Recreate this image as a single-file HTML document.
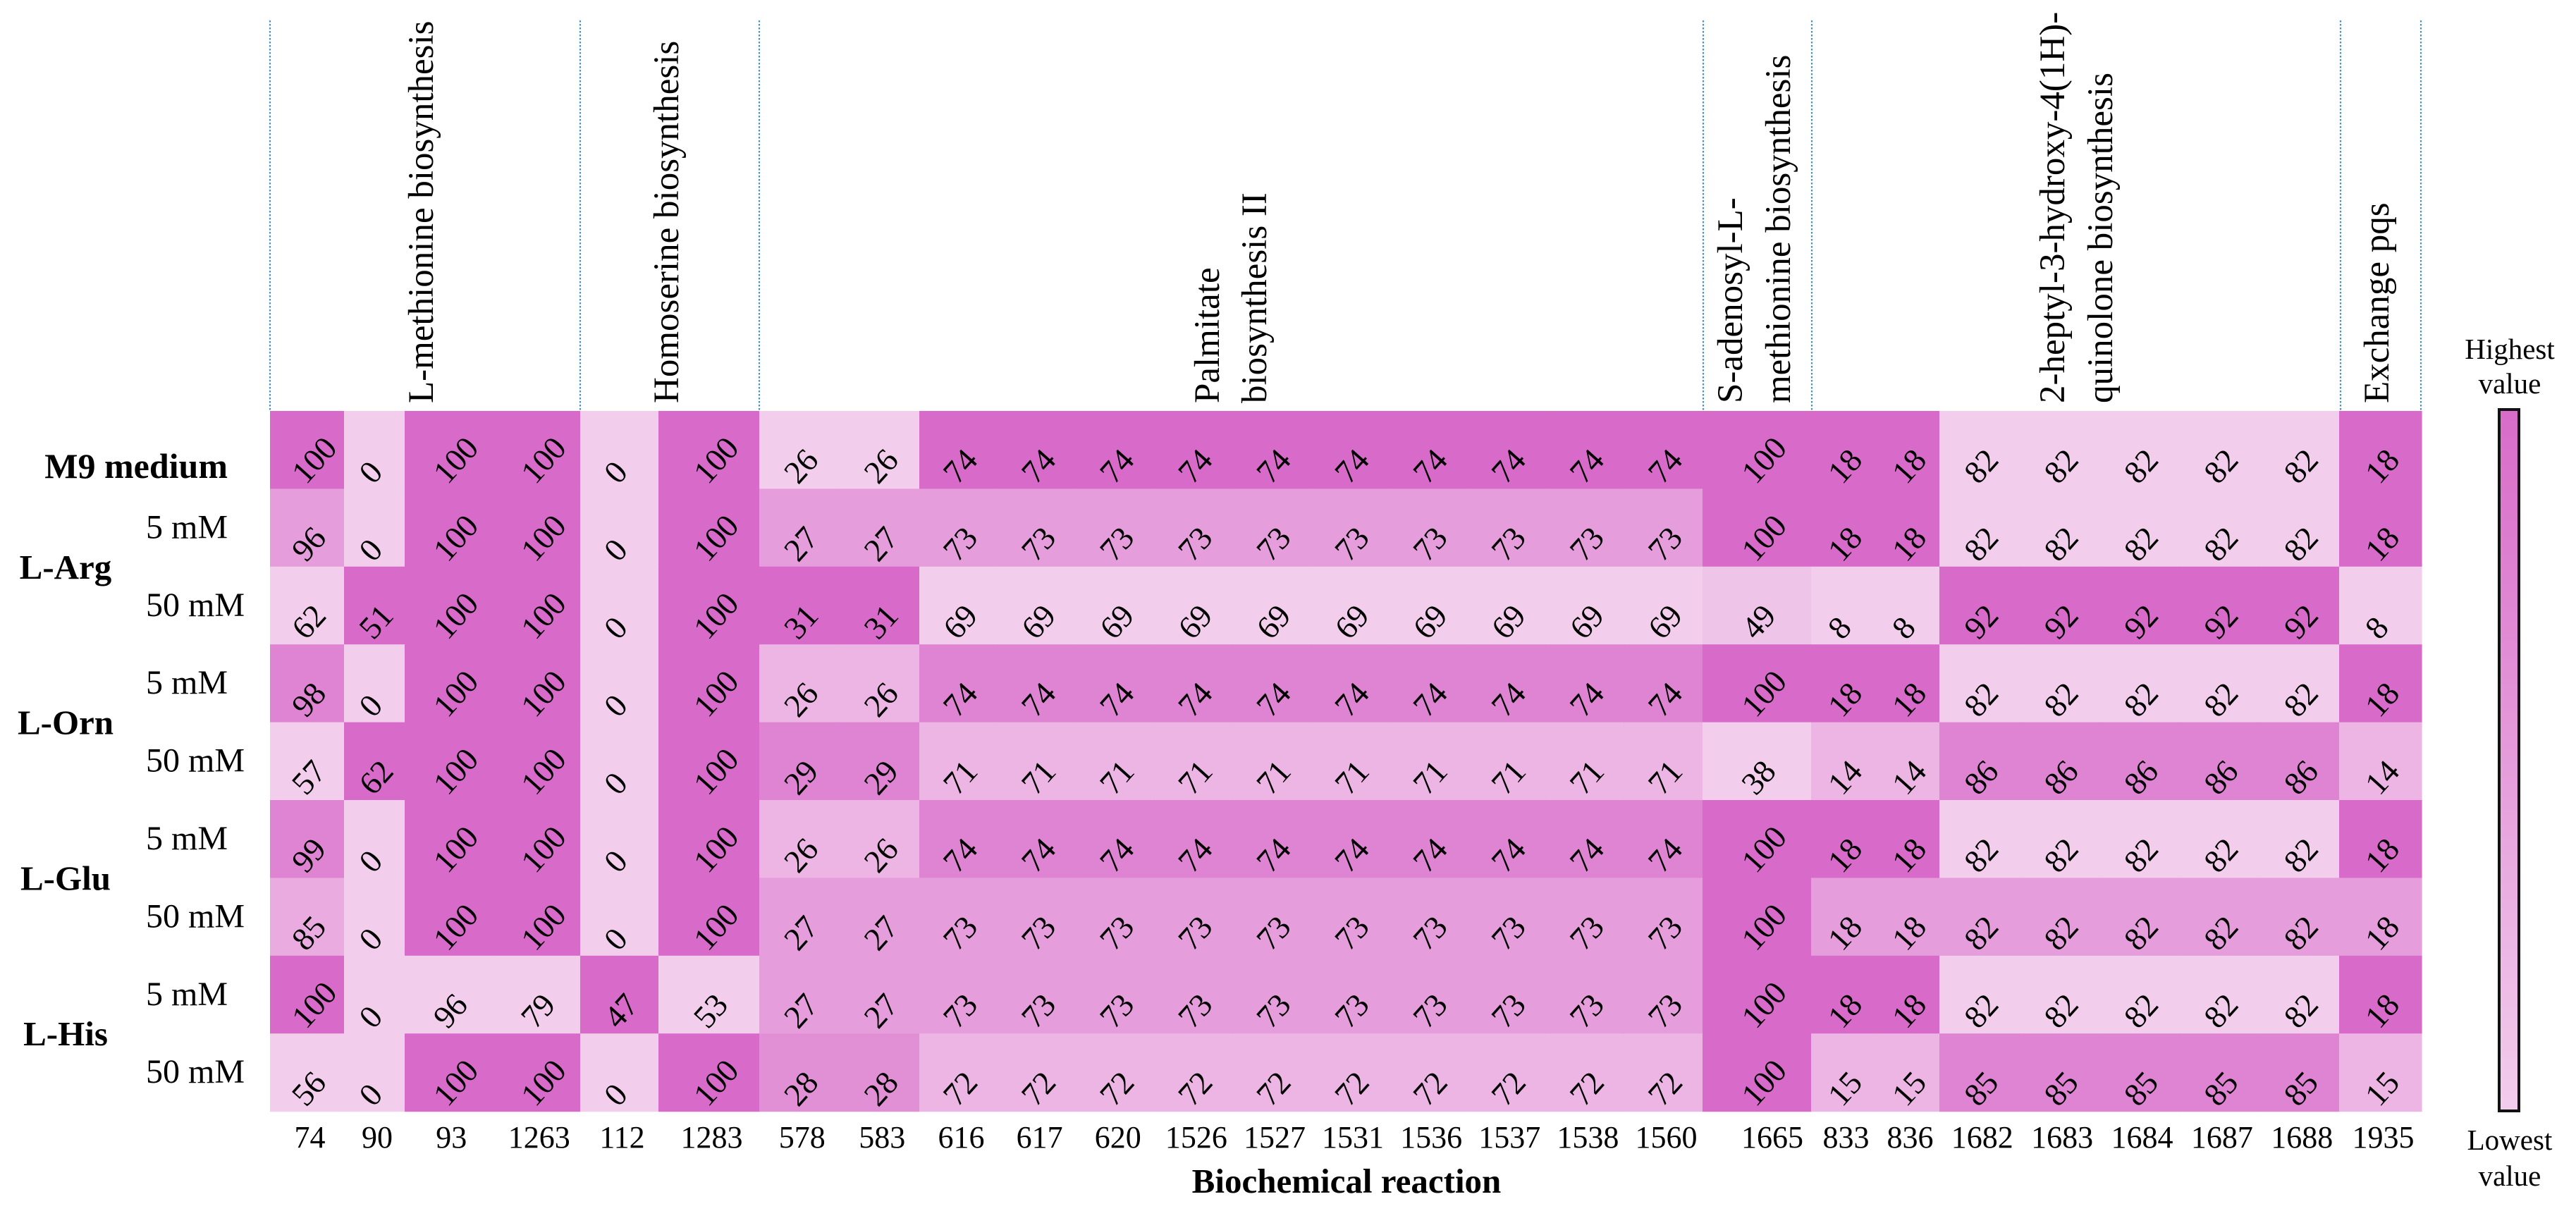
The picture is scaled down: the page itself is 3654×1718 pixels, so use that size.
<!DOCTYPE html>
<html><head><meta charset="utf-8"><style>
html,body{margin:0;padding:0;background:#fff;}
svg{display:block;font-family:"Liberation Serif",serif;}
</style></head><body>
<svg id="chart" xmlns="http://www.w3.org/2000/svg" width="3654" height="1718" viewBox="0 0 3654 1718">
<defs>
<linearGradient id="lg" x1="0" y1="0" x2="0" y2="1">
<stop offset="0" stop-color="#d86bc9"/><stop offset="1" stop-color="#f2cdec"/>
</linearGradient>
</defs>
<g id="headers"></g>
<g id="cells"></g>
<g id="labels"></g>
<g id="xticks"></g>
<text x="1910" y="1692" font-size="49" font-weight="bold" text-anchor="middle">Biochemical reaction</text>
<g>
<text x="3560" y="509" font-size="41" text-anchor="middle">Highest</text>
<text x="3560" y="558" font-size="41" text-anchor="middle">value</text>
<rect x="3545" y="581" width="28" height="995" fill="url(#lg)" stroke="#111" stroke-width="4"/>
<text x="3560" y="1631" font-size="41" text-anchor="middle">Lowest</text>
<text x="3560" y="1682" font-size="41" text-anchor="middle">value</text>
</g>
</svg>
<script>
const reactions = ["74","90","93","1263","112","1283","578","583","616","617","620","1526","1527","1531","1536","1537","1538","1560","1665","833","836","1682","1683","1684","1687","1688","1935"];
const rowLabels = ["M9 medium","5 mM","50 mM","5 mM","50 mM","5 mM","50 mM","5 mM","50 mM"];
const groupLabels = ["L-Arg","L-Orn","L-Glu","L-His"];
const rowM9 =    [100,0,100,100,0,100,26,26,74,74,74,74,74,74,74,74,74,74,100,18,18,82,82,82,82,82,18];
const rowArg5 =  [96,0,100,100,0,100,27,27,73,73,73,73,73,73,73,73,73,73,100,18,18,82,82,82,82,82,18];
const rowArg50 = [62,51,100,100,0,100,31,31,69,69,69,69,69,69,69,69,69,69,49,8,8,92,92,92,92,92,8];
const rowOrn5 =  [98,0,100,100,0,100,26,26,74,74,74,74,74,74,74,74,74,74,100,18,18,82,82,82,82,82,18];
const rowOrn50 = [57,62,100,100,0,100,29,29,71,71,71,71,71,71,71,71,71,71,38,14,14,86,86,86,86,86,14];
const rowGlu5 =  [99,0,100,100,0,100,26,26,74,74,74,74,74,74,74,74,74,74,100,18,18,82,82,82,82,82,18];
const rowGlu50 = [85,0,100,100,0,100,27,27,73,73,73,73,73,73,73,73,73,73,100,18,18,82,82,82,82,82,18];
const rowHis5 =  [100,0,96,79,47,53,27,27,73,73,73,73,73,73,73,73,73,73,100,18,18,82,82,82,82,82,18];
const rowHis50 = [56,0,100,100,0,100,28,28,72,72,72,72,72,72,72,72,72,72,100,15,15,85,85,85,85,85,15];
// relative shade (0 = lowest, 4 = highest)
const shM9 =    [4,0,4,4,0,4,0,0,4,4,4,4,4,4,4,4,4,4,4,4,4,0,0,0,0,0,4];
const shArg5 =  [2,0,4,4,0,4,2,2,2,2,2,2,2,2,2,2,2,2,4,4,4,0,0,0,0,0,4];
const shArg50 = [0,4,4,4,0,4,4,4,0,0,0,0,0,0,0,0,0,0,0.4,0,0,4,4,4,4,4,0];
const shOrn5 =  [3,0,4,4,0,4,1,1,3,3,3,3,3,3,3,3,3,3,4,4,4,0,0,0,0,0,4];
const shOrn50 = [0,4,4,4,0,4,3,3,1,1,1,1,1,1,1,1,1,1,0,1,1,3,3,3,3,3,1];
const shGlu5 =  [3,0,4,4,0,4,1,1,3,3,3,3,3,3,3,3,3,3,4,4,4,0,0,0,0,0,4];
const shGlu50 = [1.4,0,4,4,0,4,2,2,2,2,2,2,2,2,2,2,2,2,4,2,2,2,2,2,2,2,2];
const shHis5 =  [4,0,0,0,4,0,2,2,2,2,2,2,2,2,2,2,2,2,4,4,4,0,0,0,0,0,4];
const shHis50 = [0,0,4,4,0,4,2.5,2.5,1,1,1,1,1,1,1,1,1,1,4,1,1,3,3,3,3,3,1];
const pathways = [["L-methionine biosynthesis"],["Homoserine biosynthesis"],["Palmitate","biosynthesis II"],["S-adenosyl-L-","methionine biosynthesis"],["2-heptyl-3-hydroxy-4(1H)-","quinolone biosynthesis"],["Exchange pqs"]];

const values = [rowM9,rowArg5,rowArg50,rowOrn5,rowOrn50,rowGlu5,rowGlu50,rowHis5,rowHis50];
const shades = [shM9,shArg5,shArg50,shOrn5,shOrn50,shGlu5,shGlu50,shHis5,shHis50];

const NS = "http://www.w3.org/2000/svg";
const colW = [105,86,124.5,124.5,111,143,113.5,113.5,111.1,111.1,111.1,111.1,111.1,111.1,111.1,111.1,111.1,111.1,154,91,91,113.4,113.4,113.4,113.4,113.4,117];
const X0 = 383, Y0 = 583, RH = 110.4;
const colX = [X0]; colW.forEach((w,i)=>colX.push(colX[i]+w));
const xL = i => colX[i], xW = i => colW[i], xC = i => colX[i] + colW[i]/2;
const yT = r => Y0 + r*RH;
const lo = [242,206,236], hi = [216,107,201];
function shadeColor(s){const t=s/4;return "rgb("+lo.map((v,k)=>Math.round(v+(hi[k]-v)*t)).join(",")+")";}
function mk(tag, attrs, parent){const e=document.createElementNS(NS,tag);for(const k in attrs)e.setAttribute(k,attrs[k]);parent.appendChild(e);return e;}

const gCells = document.getElementById('cells');
values.forEach((row,r)=>{
  row.forEach((v,c)=>{
    const rect = mk('rect',{x:xL(c),y:yT(r),width:xW(c)+0.6,height:RH+0.6,fill:shadeColor(shades[r][c])},gCells);
    
    
    const cx = xC(c)-13, cy = yT(r)+RH/2+40;
    const t = mk('text',{x:cx,y:cy,'font-size':46,'dominant-baseline':'central',transform:'rotate(-48 '+cx+' '+cy+')'},gCells);
    t.textContent = v;
    
    
  });
});

const gX = document.getElementById('xticks');
reactions.forEach((lab,c)=>{
  const t = mk('text',{x:xC(c)+(c===18?22:4),y:1628,'font-size':44,'text-anchor':'middle'},gX);
  t.textContent = lab;
  
  
});

const gL = document.getElementById('labels');
rowLabels.forEach((lab,r)=>{
  let t;
  if(r===0){ t = mk('text',{x:323,y:yT(0)+95,'font-size':50,'font-weight':'bold','text-anchor':'end'},gL); }
  else { t = mk('text',{x:207,y:yT(r)+70,'font-size':48},gL); }
  t.textContent = lab;
  
  
});
groupLabels.forEach((lab,g)=>{
  const t = mk('text',{x:93,y:yT(2+2*g)+17,'font-size':49,'font-weight':'bold','text-anchor':'middle'},gL);
  t.textContent = lab;
  
  
});

const gH = document.getElementById('headers');
[383,823,1077,2416,2570,3320,3434].forEach(x=>{
  const l = mk('line',{x1:x,y1:29,x2:x,y2:583,stroke:'#4a90c0','stroke-width':2.2,'stroke-dasharray':'2.5 2.5'},gH);
  
  
});
const headerBase = [[614],[962],[1729,1796],[2471,2539],[2928,2996],[3388]];
pathways.forEach((lines,p)=>{
  lines.forEach((txt,k)=>{
    const x = headerBase[p][k], y = 572;
    const t = mk('text',{x:x,y:y,'font-size':51,transform:'rotate(-90 '+x+' '+y+')'},gH);
    t.textContent = txt;
    
    
  });
});
</script>
</body></html>
